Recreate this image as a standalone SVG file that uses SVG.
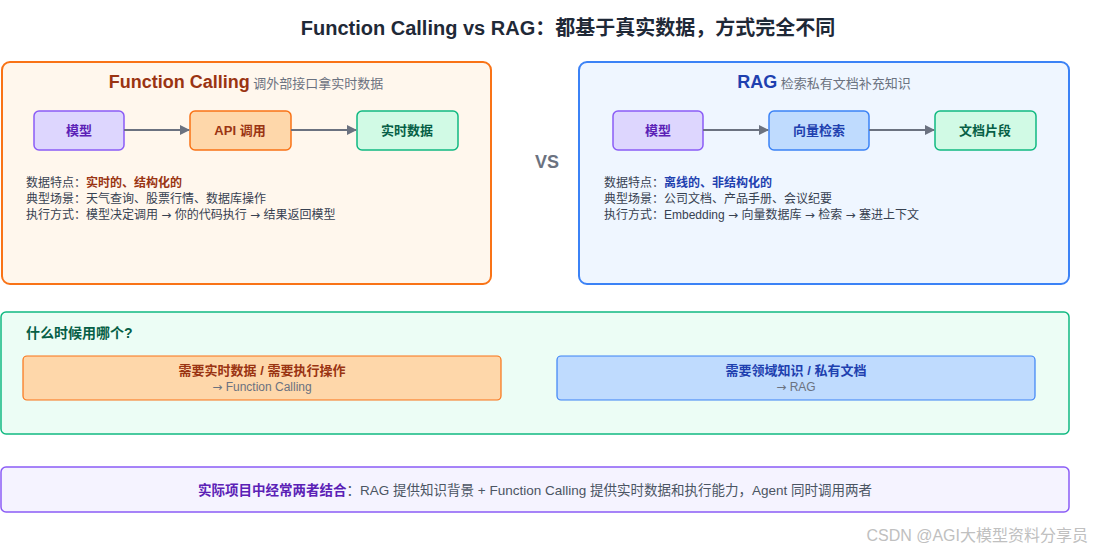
<svg xmlns="http://www.w3.org/2000/svg" width="1093" height="551" viewBox="0 0 1093 551">
<defs>
<marker id="ah" markerWidth="10" markerHeight="10" refX="9" refY="5" orient="auto" markerUnits="userSpaceOnUse"><path d="M0,0 L10,5 L0,10 z" fill="#6b7280"/></marker>
<style>
text{font-family:"Liberation Sans","Noto Sans CJK SC",sans-serif}
.b{font-weight:bold}
.n{font-size:13px;font-weight:bold;text-anchor:middle}
.d{font-size:12px;fill:#374151}
.c{stroke:#6b7280;stroke-width:2;fill:none;marker-end:url(#ah)}
.ar{font-family:"DejaVu Sans",sans-serif}
</style>
</defs>
<rect width="1093" height="551" fill="#fff"/>
<text x="568" y="35" text-anchor="middle" class="b" font-size="20" fill="#1f2937">Function Calling vs RAG：都基于真实数据，方式完全不同</text>

<g id="fc-panel">
<rect x="2" y="62" width="489" height="222" rx="8" fill="#fff7ed" stroke="#f97316" stroke-width="2"/>
<text x="246" y="88" text-anchor="middle"><tspan class="b" font-size="18" fill="#9a3412">Function Calling</tspan><tspan font-size="13" fill="#6b7280"> 调外部接口拿实时数据</tspan></text>
<text x="26" y="187" class="d">数据特点：<tspan class="b" fill="#9a3412">实时的、结构化的</tspan></text>
<text x="26" y="203" class="d">典型场景：天气查询、股票行情、数据库操作</text>
<text x="26" y="219" class="d">执行方式：模型决定调用 <tspan class="ar">→</tspan> 你的代码执行 <tspan class="ar">→</tspan> 结果返回模型</text>
</g>
<g id="fc-model"><rect x="34" y="111" width="90" height="39" rx="5" fill="#ddd6fe" stroke="#8b5cf6" stroke-width="1.5"/><text x="79" y="135" class="n" fill="#5b21b6">模型</text></g>
<g id="fc-api"><rect x="190" y="111" width="101" height="39" rx="5" fill="#fed7aa" stroke="#f97316" stroke-width="1.5"/><text x="240" y="135" class="n" fill="#9a3412">API 调用</text></g>
<g id="fc-data"><rect x="357" y="111" width="101" height="39" rx="5" fill="#d1fae5" stroke="#10b981" stroke-width="1.5"/><text x="407" y="135" class="n" fill="#065f46">实时数据</text></g>

<text x="547" y="168" text-anchor="middle" class="b" font-size="18" fill="#6b7280">VS</text>

<g id="rag-panel">
<rect x="579" y="62" width="490" height="222" rx="8" fill="#eff6ff" stroke="#3b82f6" stroke-width="2"/>
<text x="824" y="88" text-anchor="middle"><tspan class="b" font-size="18" fill="#1e40af">RAG</tspan><tspan font-size="13" fill="#6b7280"> 检索私有文档补充知识</tspan></text>
<text x="604" y="187" class="d">数据特点：<tspan class="b" fill="#1e40af">离线的、非结构化的</tspan></text>
<text x="604" y="203" class="d">典型场景：公司文档、产品手册、会议纪要</text>
<text x="604" y="219" class="d">执行方式：Embedding <tspan class="ar">→</tspan> 向量数据库 <tspan class="ar">→</tspan> 检索 <tspan class="ar">→</tspan> 塞进上下文</text>
</g>
<g id="rag-model"><rect x="613" y="111" width="90" height="39" rx="5" fill="#ddd6fe" stroke="#8b5cf6" stroke-width="1.5"/><text x="658" y="135" class="n" fill="#5b21b6">模型</text></g>
<g id="rag-search"><rect x="769" y="111" width="100" height="39" rx="5" fill="#bfdbfe" stroke="#3b82f6" stroke-width="1.5"/><text x="819" y="135" class="n" fill="#1e40af">向量检索</text></g>
<g id="rag-doc"><rect x="935" y="111" width="101" height="39" rx="5" fill="#d1fae5" stroke="#10b981" stroke-width="1.5"/><text x="985" y="135" class="n" fill="#065f46">文档片段</text></g>

<g id="connectors">
<line x1="124" y1="130" x2="189" y2="130" class="c"/>
<line x1="291" y1="130" x2="356" y2="130" class="c"/>
<line x1="703" y1="130" x2="768" y2="130" class="c"/>
<line x1="869" y1="130" x2="934" y2="130" class="c"/>
</g>

<g id="when">
<rect x="1" y="312" width="1068" height="122" rx="5" fill="#ecfdf5" stroke="#10b981" stroke-width="1.5"/>
<text x="26" y="338" class="b" font-size="14" fill="#065f46">什么时候用哪个?</text>
</g>
<g id="when-fc">
<rect x="23" y="356" width="478" height="44" rx="4" fill="#fed7aa" stroke="#f97316" stroke-width="1.2"/>
<text x="262" y="375" text-anchor="middle" class="b" font-size="13" fill="#9a3412">需要实时数据 / 需要执行操作</text>
<text x="262" y="391" text-anchor="middle" font-size="12" fill="#6b7280"><tspan class="ar">→</tspan> Function Calling</text>
</g>
<g id="when-rag">
<rect x="557" y="356" width="478" height="44" rx="4" fill="#bfdbfe" stroke="#3b82f6" stroke-width="1.2"/>
<text x="796" y="375" text-anchor="middle" class="b" font-size="13" fill="#1e40af">需要领域知识 / 私有文档</text>
<text x="796" y="391" text-anchor="middle" font-size="12" fill="#6b7280"><tspan class="ar">→</tspan> RAG</text>
</g>
<g id="combine">
<rect x="1" y="467" width="1068" height="45" rx="5" fill="#f5f3ff" stroke="#8b5cf6" stroke-width="1.5"/>
<text x="535" y="495" text-anchor="middle" font-size="13.5"><tspan class="b" fill="#5b21b6">实际项目中经常两者结合</tspan><tspan fill="#4b5563">：RAG 提供知识背景 + Function Calling 提供实时数据和执行能力，Agent 同时调用两者</tspan></text>
</g>
<text x="1088" y="541" text-anchor="end" font-size="16" fill="#c0c0c0">CSDN @AGI大模型资料分享员</text>
</svg>
